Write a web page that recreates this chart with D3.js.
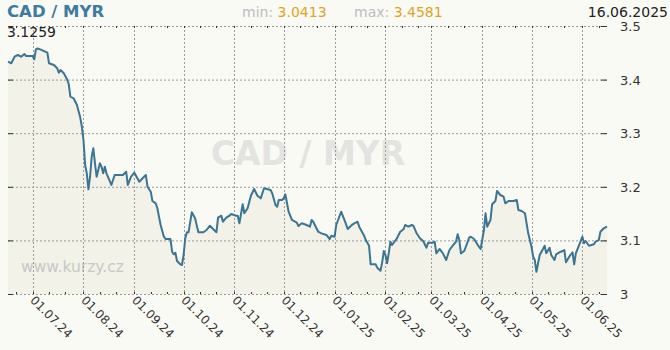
<!DOCTYPE html>
<html>
<head>
<meta charset="utf-8">
<script src="https://cdn.jsdelivr.net/npm/d3@7"></script>
<style>
  body { margin: 0; background: #fafaf5; }
  svg { display: block; font-family: "DejaVu Sans", Verdana, sans-serif; }
</style>
</head>
<body>
<div id="chart"></div>
<script>
// daily CAD/MYR rates
const dates = [
  "2024-06-16","2024-06-18","2024-06-20","2024-06-22","2024-06-24","2024-06-26","2024-06-27","2024-07-01","2024-07-02","2024-07-03",
  "2024-07-04","2024-07-06","2024-07-10","2024-07-11","2024-07-14","2024-07-16","2024-07-17","2024-07-18","2024-07-20","2024-07-22",
  "2024-07-23","2024-07-24","2024-07-26","2024-07-28","2024-07-30","2024-07-31","2024-08-01","2024-08-02","2024-08-03","2024-08-04",
  "2024-08-05","2024-08-06","2024-08-07","2024-08-08","2024-08-09","2024-08-11","2024-08-12","2024-08-13","2024-08-14","2024-08-15",
  "2024-08-18","2024-08-20","2024-08-23","2024-08-25","2024-08-27","2024-08-28","2024-08-30","2024-09-01","2024-09-04","2024-09-06",
  "2024-09-08","2024-09-09","2024-09-11","2024-09-12","2024-09-14","2024-09-15","2024-09-17","2024-09-19","2024-09-20","2024-09-23",
  "2024-09-24","2024-09-25","2024-09-26","2024-09-27","2024-09-29","2024-09-30","2024-10-01","2024-10-02","2024-10-03","2024-10-04",
  "2024-10-06","2024-10-08","2024-10-10","2024-10-13","2024-10-15","2024-10-17","2024-10-19","2024-10-21","2024-10-22","2024-10-24",
  "2024-10-25","2024-10-27","2024-10-29","2024-10-30","2024-11-02","2024-11-03","2024-11-04","2024-11-06","2024-11-07","2024-11-09",
  "2024-11-11","2024-11-13","2024-11-15","2024-11-17","2024-11-19","2024-11-23","2024-11-24","2024-11-26","2024-11-27","2024-11-28",
  "2024-11-30","2024-12-01","2024-12-02","2024-12-04","2024-12-06","2024-12-09","2024-12-10","2024-12-12","2024-12-15","2024-12-17",
  "2024-12-18","2024-12-19","2024-12-22","2024-12-24","2024-12-27","2024-12-29","2024-12-30","2025-01-01","2025-01-02","2025-01-05",
  "2025-01-07","2025-01-08","2025-01-09","2025-01-12","2025-01-15","2025-01-16","2025-01-19","2025-01-20","2025-01-22","2025-01-23",
  "2025-01-26","2025-01-27","2025-01-29","2025-01-30","2025-01-31","2025-02-01","2025-02-02","2025-02-03","2025-02-04","2025-02-05",
  "2025-02-08","2025-02-10","2025-02-12","2025-02-13","2025-02-15","2025-02-17","2025-02-18","2025-02-20","2025-02-22","2025-02-24",
  "2025-02-26","2025-02-27","2025-03-02","2025-03-03","2025-03-04","2025-03-06","2025-03-08","2025-03-10","2025-03-12","2025-03-14",
  "2025-03-16","2025-03-17","2025-03-18","2025-03-19","2025-03-21","2025-03-22","2025-03-24","2025-03-25","2025-03-27","2025-03-29",
  "2025-03-31","2025-04-02","2025-04-03","2025-04-04","2025-04-05","2025-04-06","2025-04-07","2025-04-09","2025-04-10","2025-04-12",
  "2025-04-14","2025-04-15","2025-04-17","2025-04-20","2025-04-22","2025-04-23","2025-04-25","2025-04-27","2025-04-28","2025-04-29",
  "2025-05-01","2025-05-02","2025-05-03","2025-05-04","2025-05-05","2025-05-06","2025-05-08","2025-05-09","2025-05-10","2025-05-12",
  "2025-05-13","2025-05-15","2025-05-16","2025-05-18","2025-05-20","2025-05-21","2025-05-22","2025-05-24","2025-05-26","2025-05-27",
  "2025-05-28","2025-05-30","2025-06-01","2025-06-02","2025-06-03","2025-06-05","2025-06-08","2025-06-09","2025-06-11","2025-06-12",
  "2025-06-14","2025-06-16"
];
const rates = [
  3.4334,3.4304,3.4427,3.4459,3.4427,3.4478,3.4440,3.4440,3.4379,3.4565,
  3.4581,3.4560,3.4502,3.4304,3.4272,3.4211,3.4129,3.4179,3.4118,3.4006,
  3.3918,3.3681,3.3651,3.3526,3.3297,3.3121,3.2873,3.2407,3.2252,3.1953,
  3.2188,3.2562,3.2718,3.2438,3.2188,3.2438,3.2375,3.2252,3.2375,3.2252,
  3.2034,3.2220,3.2220,3.2220,3.2282,3.2034,3.2188,3.2263,3.2095,3.2159,
  3.2220,3.2002,3.1909,3.1735,3.1692,3.1599,3.1287,3.1069,3.1026,3.1026,
  3.0789,3.0741,3.0770,3.0616,3.0554,3.0541,3.0728,3.1039,3.1151,3.1151,
  3.1524,3.1412,3.1151,3.1151,3.1194,3.1274,3.1213,3.1151,3.1424,3.1461,
  3.1349,3.1424,3.1461,3.1493,3.1461,3.1461,3.1319,3.1674,3.1506,3.1599,
  3.1834,3.1959,3.1834,3.1785,3.1972,3.1940,3.1879,3.1660,3.1629,3.1754,
  3.1754,3.1785,3.1860,3.1535,3.1381,3.1330,3.1269,3.1319,3.1287,3.1256,
  3.1381,3.1349,3.1162,3.1132,3.1101,3.1026,3.1088,3.1069,3.1287,3.1535,
  3.1381,3.1300,3.1213,3.1300,3.1349,3.1256,3.1088,3.1007,3.0901,3.0554,
  3.0554,3.0491,3.0432,3.0591,3.0802,3.0728,3.0573,3.0759,3.0976,3.0914,
  3.1039,3.1162,3.1207,3.1287,3.1256,3.1287,3.1274,3.1132,3.1039,3.0989,
  3.0864,3.0957,3.0957,3.0976,3.0759,3.0840,3.0759,3.0634,3.0821,3.0901,
  3.0976,3.1114,3.1007,3.0759,3.0802,3.0882,3.1050,3.1069,3.1026,3.0927,
  3.0840,3.1194,3.1506,3.1256,3.1319,3.1381,3.1674,3.1735,3.1922,3.1847,
  3.1815,3.1692,3.1735,3.1735,3.1754,3.1567,3.1549,3.1506,3.1319,3.1132,
  3.0882,3.0696,3.0634,3.0413,3.0573,3.0728,3.0840,3.0901,3.0759,3.0864,
  3.0728,3.0634,3.0741,3.0778,3.0802,3.0821,3.0591,3.0696,3.0778,3.0554,
  3.0759,3.0914,3.1069,3.0946,3.0989,3.0901,3.0927,3.0976,3.1007,3.1162,
  3.1226,3.1259
];
const yTicks = [3, 3.1, 3.2, 3.3, 3.4, 3.5];
const pairName = "CAD / MYR";
const minRate = "3.0413";
const maxRate = "3.4581";
const lastDate = "16.06.2025";
const lastRate = "3.1259";
const startDate = "2024-06-16";
const endDate = "2025-06-16";

const width = 670, height = 350;
const plot = { left: 8, right: 607, top: 26, bottom: 294 };

const parse = d3.utcParse("%Y-%m-%d");
const data = dates.map((d, i) => ({ date: parse(d), value: rates[i] }));

const svg = d3.select('#chart').append('svg')
    .attr('width', width)
    .attr('height', height);

const x = d3.scaleUtc()
    .domain([parse(startDate), parse(endDate)])
    .range([plot.left, plot.right]);
const y = d3.scaleLinear()
    .domain([3, 3.5])
    .range([plot.bottom, plot.top]);

// area under the line
svg.append('path')
    .datum(data)
    .attr('fill', '#f2f2e9')
    .attr('d', d3.area().x(d => x(d.date)).y0(y(3)).y1(d => y(d.value)));

// watermarks
svg.append('text')
    .attr('x', 308).attr('y', 165)
    .attr('text-anchor', 'middle')
    .attr('font-size', 33).attr('font-weight', 'bold')
    .attr('fill', '#e3e3e0')
    .text(pairName);
svg.append('text')
    .attr('x', 21).attr('y', 272)
    .attr('font-size', 15.5)
    .attr('fill', '#c8c8c6')
    .text('www.kurzy.cz');

// horizontal grid
const grid = svg.append('g')
    .attr('stroke', '#9a9a9a')
    .attr('stroke-dasharray', '2,2');
grid.selectAll('.hg').data(yTicks).enter().append('line')
    .attr('x1', plot.left).attr('x2', plot.right)
    .attr('y1', d => y(d) + 0.5).attr('y2', d => y(d) + 0.5);

// monthly vertical grid
const months = d3.utcMonth.range(d3.utcMonth.ceil(x.domain()[0]), x.domain()[1]);
grid.selectAll('.vg').data(months).enter().append('line')
    .attr('x1', d => Math.round(x(d)) + 0.5).attr('x2', d => Math.round(x(d)) + 0.5)
    .attr('y1', plot.top).attr('y2', plot.bottom);

// minor ticks on top and bottom edges (1st, 11th, 21st)
const minor = d3.utcDay.range(x.domain()[0], x.domain()[1])
    .filter(d => [1, 11, 21].includes(d.getUTCDate()));
const ticks = svg.append('g').attr('stroke', '#333');
ticks.selectAll('.tt').data(minor).enter().append('line')
    .attr('x1', d => Math.round(x(d)) + 0.5).attr('x2', d => Math.round(x(d)) + 0.5)
    .attr('y1', plot.top).attr('y2', plot.top + 2);
ticks.selectAll('.bt').data(minor).enter().append('line')
    .attr('x1', d => Math.round(x(d)) + 0.5).attr('x2', d => Math.round(x(d)) + 0.5)
    .attr('y1', plot.bottom - 2).attr('y2', plot.bottom);

// y ticks on both sides
ticks.selectAll('.lt').data(yTicks).enter().append('line')
    .attr('x1', plot.left).attr('x2', plot.left + 5)
    .attr('y1', d => y(d) + 0.5).attr('y2', d => y(d) + 0.5);
ticks.selectAll('.rt').data(yTicks).enter().append('line')
    .attr('x1', plot.right - 6).attr('x2', plot.right)
    .attr('y1', d => y(d) + 0.5).attr('y2', d => y(d) + 0.5);

// right axis labels
svg.append('g').selectAll('text').data(yTicks).enter().append('text')
    .attr('x', 620).attr('y', d => y(d) + 5)
    .attr('font-size', 13).attr('fill', '#333')
    .text(d => d3.format('')(d));

// rotated month labels
const fmtMonth = d3.utcFormat('%d.%m.%y');
svg.append('g').selectAll('text').data(months).enter().append('text')
    .attr('transform', d => `translate(${x(d) - 3},${plot.bottom + 7}) rotate(45)`)
    .attr('font-size', 12).attr('fill', '#333')
    .text(d => fmtMonth(d));

// rate line
svg.append('path')
    .datum(data)
    .attr('fill', 'none')
    .attr('stroke', '#3b7593')
    .attr('stroke-width', 2)
    .attr('stroke-linejoin', 'round')
    .attr('d', d3.line().x(d => x(d.date)).y(d => y(d.value)));

// header texts
svg.append('text')
    .attr('x', 7).attr('y', 17)
    .attr('font-size', 16.5).attr('font-weight', 'bold')
    .attr('fill', '#3e7ba0')
    .text(pairName);

const minT = svg.append('text').attr('x', 242).attr('y', 17).attr('font-size', 14);
minT.append('tspan').attr('fill', '#bdbdbd').text('min: ');
minT.append('tspan').attr('fill', '#e0a31e').text(minRate);
const maxT = svg.append('text').attr('x', 354).attr('y', 17).attr('font-size', 14);
maxT.append('tspan').attr('fill', '#bdbdbd').text('max: ');
maxT.append('tspan').attr('fill', '#e0a31e').text(maxRate);

svg.append('text')
    .attr('x', 668).attr('y', 17)
    .attr('text-anchor', 'end')
    .attr('font-size', 14).attr('fill', '#222')
    .text(lastDate);

svg.append('text')
    .attr('x', 7).attr('y', 37)
    .attr('font-size', 14).attr('fill', '#222')
    .text(lastRate);
</script>
</body>
</html>
